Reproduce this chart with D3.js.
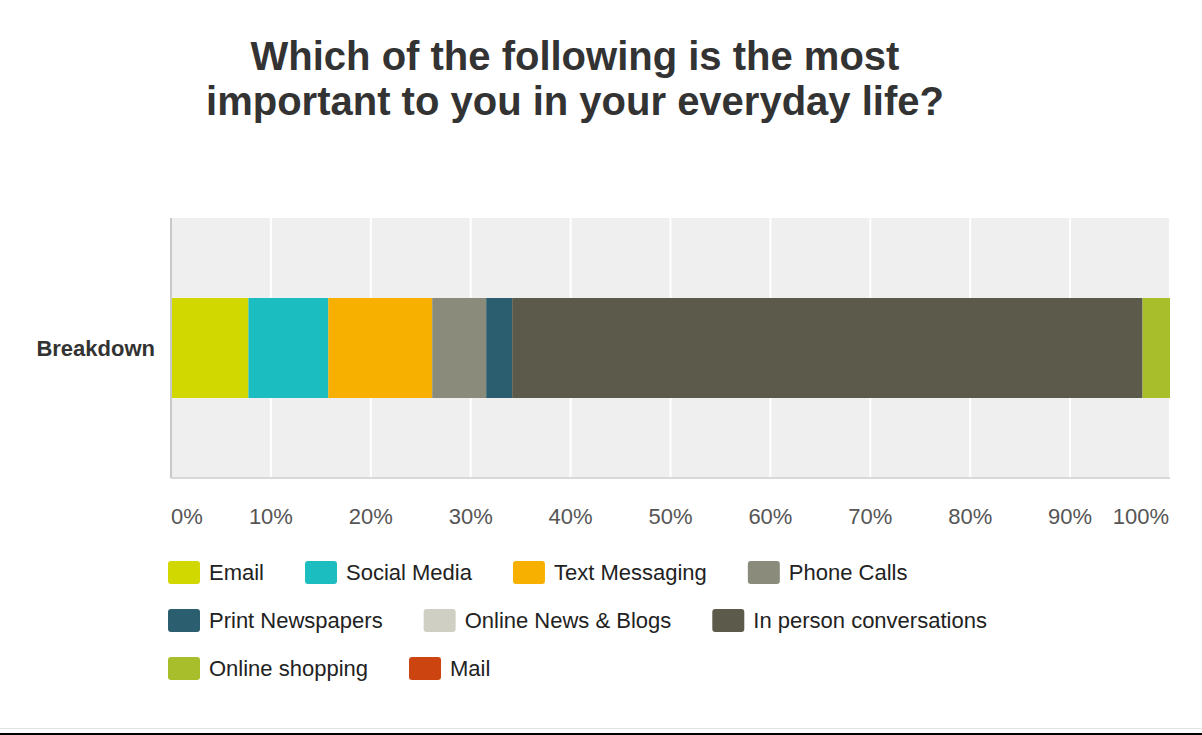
<!DOCTYPE html>
<html>
<head>
<meta charset="utf-8">
<script src="https://cdn.jsdelivr.net/npm/d3@7"></script>
<style>
    body { margin: 0; background: #fff; }
    text { font-family: "Liberation Sans", Arial, sans-serif; }
</style>
</head>
<body>
<svg id="chart" width="1202" height="735"></svg>
<script>
const titleLines = ["Which of the following is the most", "important to you in your everyday life?"];
const rowLabels = ["Breakdown"];
const categories = ["Email", "Social Media", "Text Messaging", "Phone Calls", "Print Newspapers",
    "Online News & Blogs", "In person conversations", "Online shopping", "Mail"];
const shares = [7.75, 8.0, 10.4, 5.4, 2.6, 0, 63.1, 2.75, 0];
const colors = ["#d0d800", "#1bbdc1", "#f8b000", "#8a8b7b", "#2b5e6e", "#cfcfc4", "#5c5b4b", "#a8bf2b", "#cc4410"];
const ticks = [0, 10, 20, 30, 40, 50, 60, 70, 80, 90, 100];

const margin = {left: 171, top: 218, right: 32, bottom: 257};
const width = 1202 - margin.left - margin.right;
const height = 735 - margin.top - margin.bottom;

const svg = d3.select("#chart");

const x = d3.scaleLinear().domain([0, 100]).range([0, width]);
const y = d3.scaleBand().domain(rowLabels).range([0, height]).paddingInner(0).paddingOuter(0.8);
const color = d3.scaleOrdinal().domain(categories).range(colors);

// Title
svg.append("g").selectAll("text")
    .data(titleLines)
    .enter()
    .append("text")
    .attr("x", 575)
    .attr("y", (d, i) => 70 + i * 45)
    .attr("text-anchor", "middle")
    .style("font-size", "40px")
    .style("font-weight", "bold")
    .style("fill", "#333")
    .text(d => d);

const g = svg.append("g").attr("transform", `translate(${margin.left}, ${margin.top})`);

g.append("rect")
    .attr("width", width)
    .attr("height", height)
    .style("fill", "#efefef");

// Gridlines
g.selectAll(".grid")
    .data(ticks.slice(1))
    .enter()
    .append("line")
    .attr("x1", d => x(d))
    .attr("x2", d => x(d))
    .attr("y1", 0)
    .attr("y2", height)
    .style("stroke", "#fff")
    .style("stroke-width", 2);

// Stacked bar
let acc = 0;
const stack = categories.map((c, i) => {
    const s = {name: c, x0: acc, x1: acc + shares[i]};
    acc += shares[i];
    return s;
});

g.selectAll(".seg")
    .data(stack.filter(d => d.x1 > d.x0))
    .enter()
    .append("rect")
    .attr("x", d => x(d.x0))
    .attr("width", d => x(d.x1) - x(d.x0))
    .attr("y", y("Breakdown"))
    .attr("height", y.bandwidth())
    .style("fill", d => color(d.name));

// Axis lines
g.append("line")
    .attr("x1", 0).attr("x2", 0)
    .attr("y1", 0).attr("y2", height)
    .style("stroke", "#c8c8c8")
    .style("stroke-width", 2);
g.append("line")
    .attr("x1", 0).attr("x2", width)
    .attr("y1", height).attr("y2", height)
    .style("stroke", "#d8d8d8")
    .style("stroke-width", 2);

// Row label
g.append("text")
    .attr("x", -16)
    .attr("y", y("Breakdown") + y.bandwidth() / 2 + 8)
    .attr("text-anchor", "end")
    .style("font-size", "22px")
    .style("font-weight", "bold")
    .style("fill", "#333")
    .text("Breakdown");

// Tick labels
g.selectAll(".tick-label")
    .data(ticks)
    .enter()
    .append("text")
    .attr("x", d => d === 100 ? x(d) - 1 : x(d))
    .attr("y", height + 46)
    .attr("text-anchor", d => d === 0 ? "start" : (d === 100 ? "end" : "middle"))
    .style("font-size", "22px")
    .style("fill", "#555")
    .text(d => d + "%");

// Legend (flow layout)
const legend = svg.append("g");
const rowTop = [561, 609, 657];
const breaks = [4, 7];
let lx = 168, row = 0;
categories.forEach((c, i) => {
    const item = legend.append("g");
    const label = item.append("text")
        .attr("x", 41)
        .attr("y", 19)
        .style("font-size", "22px")
        .style("fill", "#222")
        .text(c);
    const w = 41 + label.node().getComputedTextLength();
    if (breaks.includes(i)) {
        row += 1;
        lx = 168;
    }
    item.attr("transform", `translate(${lx}, ${rowTop[row]})`);
    item.insert("rect", "text")
        .attr("width", 32)
        .attr("height", 23)
        .attr("rx", 3)
        .style("fill", color(c));
    lx += w + 41;
});

// Bottom rules
svg.append("line")
    .attr("x1", 0).attr("x2", 1202)
    .attr("y1", 728.5).attr("y2", 728.5)
    .style("stroke", "#e2e2e2");
svg.append("line")
    .attr("x1", 0).attr("x2", 1202)
    .attr("y1", 734).attr("y2", 734)
    .style("stroke", "#000")
    .style("stroke-width", 2);
</script>
</body>
</html>
